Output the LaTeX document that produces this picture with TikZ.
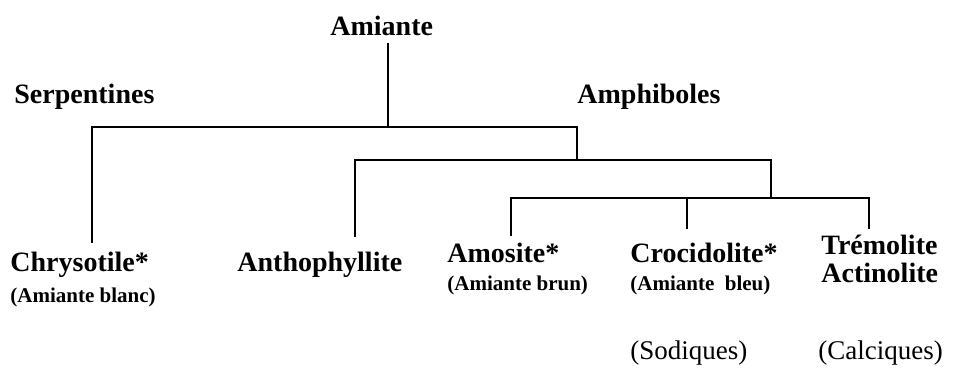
\documentclass[tikz,border=0pt]{standalone}
\usepackage{fontspec}
\setmainfont{Liberation Serif}

\begin{document}
\begin{tikzpicture}[x=0.5pt, y=-0.5pt,
    mineral/.style={anchor=west, inner sep=0pt, font=\fontsize{14}{16}\selectfont\bfseries},
    common/.style={anchor=west, inner sep=0pt, font=\fontsize{10.5}{12}\selectfont\bfseries},
    group/.style={anchor=west, inner sep=0pt, font=\fontsize{13.5}{16}\selectfont}]
        \tikzstyle{branch}=[line width=0.9pt, line cap=rect]
        \useasboundingbox (0,0) rectangle (954,369);

        \node[mineral] (amiante)     at (330,  26) {Amiante};
        \node[mineral] (serpentines) at (14,   97) {Serpentines};
        \node[mineral] (amphiboles)  at (577,  97) {Amphiboles};
        \node[mineral] (chrysotile)  at (10,  265) {Chrysotile*};
        \node[common]  (blanc)       at (10,  297) {(Amiante blanc)};
        \node[mineral] (antho)       at (237, 265) {Anthophyllite};
        \node[mineral] (amosite)     at (447, 253) {Amosite*};
        \node[common]  (brun)        at (447, 285) {(Amiante brun)};
        \node[mineral] (crocido)     at (630, 253) {Crocidolite*};
        \node[common]  (bleu)        at (630, 285) {(Amiante\ \ bleu)};
        \node[mineral] (tremolite)   at (821, 245) {Trémolite};
        \node[mineral] (actino)      at (821, 273) {Actinolite};
        \node[group]   (sodiques)    at (630, 353) {(Sodiques)};
        \node[group]   (calciques)   at (818, 353) {(Calciques)};

        \coordinate (j0) at (388, 127);
        \coordinate (j1) at (577, 160);
        \coordinate (j2) at (771, 198);
        \coordinate (e1) at (92,  242);
        \coordinate (e2) at (355, 236);
        \coordinate (e3) at (511, 235);
        \coordinate (e4) at (687, 228);
        \coordinate (e5) at (869, 228);

        \draw[branch] (amiante.south -| j0) ++(0,8) -- (j0);
        \draw[branch] (e1) |- (j0) -| (j1);
        \draw[branch] (e2) |- (j1) -| (j2);
        \draw[branch] (e3) |- (j2) -| (e5);
        \draw[branch] (e4) -- (e4 |- j2);
    \end{tikzpicture}
\end{document}
